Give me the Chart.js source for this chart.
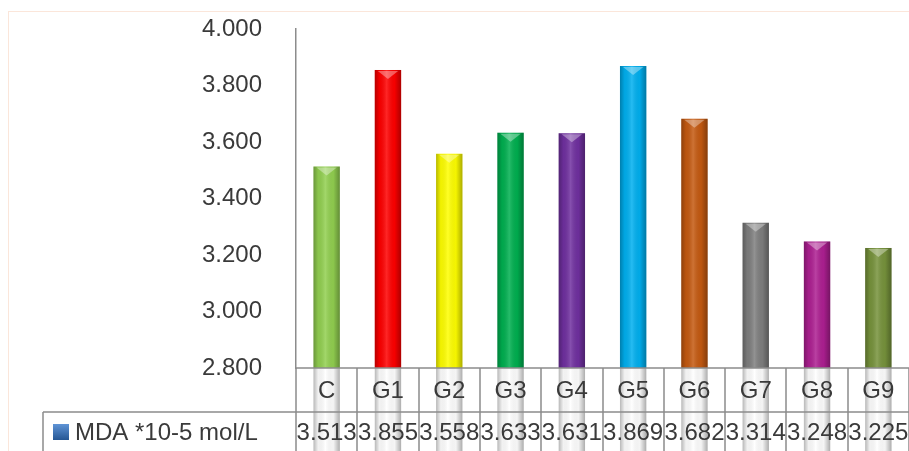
<!DOCTYPE html>
<html>
<head>
<meta charset="utf-8">
<script src="https://cdn.jsdelivr.net/npm/chart.js@4/dist/chart.umd.min.js"></script>
<style>
  html, body { margin: 0; padding: 0; background: #ffffff; }
  #wrap { width: 909px; height: 451px; }
</style>
</head>
<body>
<div id="wrap"><canvas id="mdaChart" width="909" height="451"></canvas></div>
<script>
const categories = ["C", "G1", "G2", "G3", "G4", "G5", "G6", "G7", "G8", "G9"];
const mdaValues = [3.513, 3.855, 3.558, 3.633, 3.631, 3.869, 3.682, 3.314, 3.248, 3.225];
const valueLabels = ["3.513", "3.855", "3.558", "3.633", "3.631", "3.869", "3.682", "3.314", "3.248", "3.225"];
const barColors = ["#92d050", "#ff0000", "#ffff00", "#00b050", "#7030a0",
                   "#00b0f0", "#c55a11", "#7f7f7f", "#ae1f92", "#77933c"];
const seriesLabel = "MDA *10-5 mol/L";

const FONT = "'Liberation Sans', Arial, sans-serif";
const TEXT_COLOR = "#3a3a3a";
const LINE_COLOR = "#8c8c8c";

// 3D-ish shading on top of the flat bars
const barShade = {
    id: "barShade",
    afterDatasetsDraw(chart) {
        const ctx = chart.ctx;
        chart.getDatasetMeta(0).data.forEach(bar => {
            const left = bar.x - bar.width / 2;
            const right = bar.x + bar.width / 2;
            const g = ctx.createLinearGradient(left, 0, right, 0);
            g.addColorStop(0, "rgba(0,0,0,0.28)");
            g.addColorStop(0.18, "rgba(0,0,0,0.05)");
            g.addColorStop(0.45, "rgba(255,255,255,0.15)");
            g.addColorStop(0.75, "rgba(0,0,0,0.04)");
            g.addColorStop(1, "rgba(0,0,0,0.32)");
            ctx.save();
            ctx.fillStyle = g;
            ctx.fillRect(left, bar.y, bar.width, bar.base - bar.y);
            ctx.fillStyle = "rgba(255,255,255,0.35)";
            ctx.beginPath();
            ctx.moveTo(left + 3, bar.y + 1);
            ctx.lineTo(right - 3, bar.y + 1);
            ctx.lineTo(bar.x, bar.y + 9);
            ctx.closePath();
            ctx.fill();
            ctx.restore();
        });
    }
};

// data table under the x axis
const dataTable = {
    id: "dataTable",
    beforeDraw(chart) {
        const ctx = chart.ctx;
        ctx.save();
        ctx.strokeStyle = "#fbe6da";
        ctx.lineWidth = 1;
        ctx.strokeRect(8.5, 11.5, chart.width + 10, chart.height + 10);
        ctx.restore();
    },
    afterDraw(chart) {
        const ctx = chart.ctx;
        const area = chart.chartArea;
        const x = chart.scales.x;
        const cellW = x.width / categories.length;
        const rowTop = area.bottom;
        const rowMid = 412;
        const rowBottom = chart.height;

        ctx.save();
        ctx.strokeStyle = LINE_COLOR;
        ctx.lineWidth = 1.5;
        ctx.beginPath();
        ctx.moveTo(area.left, rowTop);
        ctx.lineTo(area.right, rowTop);
        ctx.moveTo(43, rowMid);
        ctx.lineTo(area.right, rowMid);
        ctx.moveTo(43, rowMid);
        ctx.lineTo(43, rowBottom);
        for (let i = 0; i <= categories.length; i++) {
            const cx = Math.round(x.getPixelForTick(Math.min(i, categories.length - 1)) +
                (i === categories.length ? cellW / 2 : -cellW / 2));
            ctx.moveTo(cx, rowTop);
            ctx.lineTo(cx, rowBottom);
        }
        ctx.stroke();

        ctx.fillStyle = TEXT_COLOR;
        ctx.font = "24px " + FONT;
        ctx.textAlign = "center";
        ctx.textBaseline = "middle";
        categories.forEach((c, i) => {
            const cx = x.getPixelForTick(i);
            ctx.fillText(c, cx, 391);
            ctx.fillText(valueLabels[i], cx, 433);
        });

        // legend key + series name
        const key = ctx.createLinearGradient(0, 424, 0, 441);
        key.addColorStop(0, "#5f94d6");
        key.addColorStop(1, "#21528f");
        ctx.fillStyle = key;
        ctx.fillRect(53, 424, 16, 16);
        ctx.fillStyle = TEXT_COLOR;
        ctx.textAlign = "left";
        ctx.fillText(seriesLabel, 75, 433);
        ctx.restore();
    }
};

const chartCtx = document.getElementById("mdaChart").getContext("2d");

const mdaChart = new Chart(chartCtx, {
    type: "bar",
    data: {
        labels: categories,
        datasets: [{
            label: seriesLabel,
            data: mdaValues,
            backgroundColor: barColors,
            borderWidth: 0,
            barPercentage: 0.43,
            categoryPercentage: 1.0
        }]
    },
    options: {
        responsive: false,
        animation: false,
        layout: { padding: { top: 29, right: 0, bottom: 0, left: 0 } },
        plugins: {
            legend: { display: false },
            tooltip: { enabled: false },
            title: { display: false }
        },
        scales: {
            x: {
                grid: { display: false },
                border: { display: false },
                ticks: { display: false },
                afterFit(scale) {
                    scale.height = 83;
                    scale.paddingLeft = 0;
                    scale.paddingRight = 0;
                }
            },
            y: {
                min: 2.8,
                max: 4.0,
                grid: { display: false },
                border: { display: true, color: LINE_COLOR, width: 1.5 },
                ticks: {
                    stepSize: 0.2,
                    padding: 26,
                    color: TEXT_COLOR,
                    font: { family: FONT, size: 24 },
                    callback: v => Number(v).toFixed(3)
                },
                afterFit(scale) {
                    scale.width = 296;
                    scale.paddingTop = 0;
                    scale.paddingBottom = 0;
                }
            }
        }
    },
    plugins: [barShade, dataTable]
});
</script>
</body>
</html>
